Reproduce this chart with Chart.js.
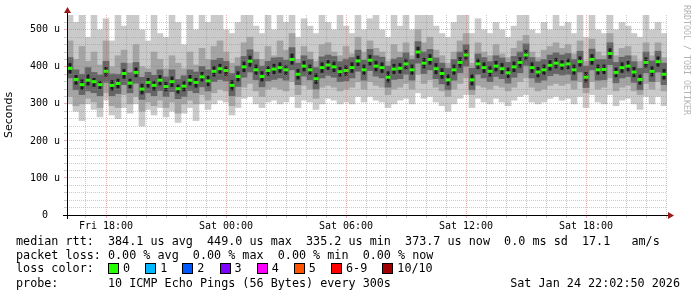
<!DOCTYPE html>
<html>
<head>
<meta charset="utf-8">
<script src="https://cdn.jsdelivr.net/npm/chart.js@4/dist/chart.umd.min.js"></script>
<style>
body { margin: 0; background: #fff; }
#wrap { position: relative; width: 697px; height: 297px; overflow: hidden; }
canvas { position: absolute; left: 0; top: 0; }
.txt { position: absolute; left: 16px; font: 11.75px 'DejaVu Sans Mono', monospace; white-space: pre; color: #000; line-height: 14px; }
.sq { position: absolute; width: 9px; height: 9px; border: 1px solid #000; }
</style>
</head>
<body>
<div id="wrap">
<canvas id="smoke" width="697" height="297"></canvas>
<div class="txt" style="top:234px">median rtt:  384.1 us avg  449.0 us max  335.2 us min  373.7 us now  0.0 ms sd  17.1   am/s</div>
<div class="txt" style="top:248px">packet loss: 0.00 % avg  0.00 % max  0.00 % min  0.00 % now</div>
<div class="txt" style="top:261px">loss color:</div>
<div class="txt" style="top:276px">probe:       10 ICMP Echo Pings (56 Bytes) every 300s</div>
<div class="txt" style="top:276px;left:auto;right:17px">Sat Jan 24 22:02:50 2026</div>
</div>
<script>
// time axis: hours since Fri 00:00, one column every 18 min
var startHour = 16.05;
var stepHours = 0.3;

// median rtt (us)
var median = [396,366,352,364,360,352,388,350,355,382,
  356,385,340,358,350,364,347,360,341,348,
  364,358,373,362,388,395,390,350,374,400,
  415,392,374,390,394,398,392,420,380,402,
  392,368,398,405,400,387,390,398,416,392,
  418,402,398,372,394,396,408,392,440,410,
  420,395,382,365,392,412,432,365,408,398,
  388,402,395,384,400,412,432,398,386,392,
  404,410,405,408,392,414,372,420,392,393,
  436,385,398,402,386,366,412,388,414,380];

// core smoke (pings next to the median)
var coreHi = [410,378,366,380,370,362,400,364,368,394,
  368,398,354,370,362,378,360,374,352,362,
  378,370,386,376,402,408,402,364,388,414,
  430,406,388,402,408,412,404,436,394,416,
  406,382,412,418,414,400,404,412,430,406,
  432,416,412,388,408,410,422,406,454,424,
  434,410,396,380,406,426,446,380,422,412,
  402,416,410,398,414,426,446,412,400,406,
  418,424,418,422,406,428,386,434,406,406,
  450,398,412,416,400,380,426,402,428,394];
var coreLo = [382,352,338,350,346,340,374,336,342,368,
  342,372,326,344,336,350,334,346,328,334,
  350,344,360,348,374,382,376,336,360,386,
  400,378,360,376,380,384,378,406,366,388,
  378,354,384,392,386,374,376,384,402,378,
  404,388,384,358,380,382,394,378,424,396,
  406,380,368,350,378,398,418,350,394,384,
  374,388,380,370,386,398,418,384,372,378,
  390,396,392,394,378,400,358,406,378,380,
  422,372,384,388,372,352,398,374,400,366];

// inner (dark grey) smoke
var innerHi = [425,392,380,398,385,378,415,381,380,410,
  384,412,372,385,377,392,373,392,366,376,
  392,386,401,392,418,423,415,382,402,428,
  446,420,402,415,424,425,418,452,410,430,
  420,398,427,432,428,414,421,425,445,418,
  447,430,426,402,421,425,438,420,468,440,
  447,424,410,396,420,440,460,396,435,425,
  414,430,424,412,428,440,462,425,414,420,
  432,438,432,436,420,442,402,448,420,420,
  465,412,426,430,414,396,440,416,442,410];
var innerLo = [370,338,325,335,330,322,358,322,328,352,
  330,356,312,330,322,336,320,333,314,320,
  336,330,346,335,360,366,362,322,347,372,
  386,365,346,362,366,370,364,392,352,375,
  365,340,370,377,372,360,362,370,388,364,
  390,375,370,345,366,368,380,364,410,382,
  392,368,354,338,364,384,402,338,380,370,
  360,374,368,356,372,384,404,370,358,364,
  376,382,378,380,364,386,344,392,364,365,
  406,357,370,374,358,338,384,360,386,352];

// middle smoke
var midHi = [470,420,455,415,440,405,470,400,430,445,
  410,460,400,395,440,420,395,430,410,395,
  440,405,450,420,455,470,440,410,425,465,
  480,440,420,455,430,470,445,490,420,455,
  440,415,460,465,440,430,455,435,480,440,
  470,450,440,415,460,440,465,430,500,465,
  480,445,430,410,440,470,490,410,465,440,
  430,460,435,425,450,470,485,440,425,445,
  455,465,450,460,435,470,415,475,440,430,
  490,430,450,455,430,415,465,430,465,425];
var midLo = [320,295,300,315,305,290,330,295,290,325,
  300,320,280,305,295,310,290,305,275,300,
  310,300,325,310,330,340,335,295,320,345,
  355,335,320,340,345,340,335,360,325,350,
  340,315,345,350,345,335,340,345,360,340,
  360,350,345,325,340,345,355,340,380,355,
  365,345,335,320,340,355,370,325,350,345,
  340,350,345,335,345,360,370,345,335,340,
  350,355,350,355,340,360,330,360,340,345,
  370,335,345,350,335,325,355,340,360,335];

// outer (light) smoke: min and max ping
var maxPing = [545,520,545,480,545,500,530,470,545,510,
  545,545,500,470,545,490,480,545,520,460,
  545,500,545,520,545,545,500,490,520,545,
  545,510,490,545,500,545,520,545,480,530,
  510,490,545,520,500,545,510,490,545,500,
  530,545,500,480,545,510,545,500,545,545,
  545,510,490,480,520,545,545,490,530,500,
  490,520,500,480,510,545,545,500,490,520,
  500,545,510,520,490,545,480,545,500,490,
  545,500,520,510,490,480,545,500,520,490];
var minPing = [300,280,255,300,285,265,310,270,260,290,
  275,300,240,285,270,290,265,280,250,275,
  290,255,300,285,300,310,305,270,290,315,
  320,300,290,305,310,300,305,320,290,310,
  305,285,300,315,310,300,305,300,320,305,
  320,310,305,290,300,310,315,300,330,315,
  320,305,295,280,300,315,325,290,315,305,
  300,315,305,295,310,320,325,305,300,305,
  315,320,310,315,300,320,290,325,305,300,
  325,295,310,315,300,285,320,300,320,295];

var lossLabels = ['0', '1', '2', '3', '4', '5', '6-9', '10/10'];
var lossColors = ['#26ff00', '#00b8ff', '#0059ff', '#7e00ff', '#ff00ff', '#ff5500', '#ff0000', '#a00000'];

var yTickStep = 20;
var yTickMax = 520;

// loss colour legend
var wrap = document.getElementById('wrap');
var lx = 108;
for (var k = 0; k < lossLabels.length; k++) {
  var sq = document.createElement('div');
  sq.className = 'sq';
  sq.style.left = lx + 'px';
  sq.style.top = '263px';
  sq.style.background = lossColors[k];
  wrap.appendChild(sq);
  var lb = document.createElement('div');
  lb.className = 'txt';
  lb.style.left = (lx + 15) + 'px';
  lb.style.top = '261px';
  lb.textContent = lossLabels[k];
  wrap.appendChild(lb);
  lx += 30.1 + lossLabels[k].length * 7.07;
}

function hoursAt(i) { return startHour + stepHours * (i + 0.5); }
function band(lo, hi) {
  return lo.map(function (v, i) { return { x: hoursAt(i), y: [v, hi[i]] }; });
}
var medPts = median.map(function (v, i) { return { x: hoursAt(i), y: v }; });

function barSet(lo, hi, color, width) {
  return {
    type: 'bar',
    data: band(lo, hi),
    backgroundColor: color,
    borderWidth: 0,
    grouped: false,
    barPercentage: width,
    categoryPercentage: 1
  };
}

var minorGrid = 'rgba(140,140,140,0.45)';
var majorGrid = 'rgba(225,80,80,0.45)';

var axisArrows = {
  id: 'axisArrows',
  afterDraw: function (chart) {
    var ctx = chart.ctx, a = chart.chartArea;
    ctx.save();
    ctx.strokeStyle = '#000';
    ctx.lineWidth = 1;
    ctx.beginPath();
    ctx.moveTo(a.left - 4, a.bottom + 0.5);
    ctx.lineTo(a.right + 2, a.bottom + 0.5);
    ctx.moveTo(a.left + 0.5, a.bottom + 4);
    ctx.lineTo(a.left + 0.5, a.top - 2);
    ctx.stroke();
    ctx.fillStyle = '#9a1a1a';
    ctx.beginPath();
    ctx.moveTo(a.left + 0.5, a.top - 8);
    ctx.lineTo(a.left - 3, a.top - 2);
    ctx.lineTo(a.left + 4, a.top - 2);
    ctx.fill();
    ctx.beginPath();
    ctx.moveTo(a.right + 7, a.bottom + 0.5);
    ctx.lineTo(a.right + 1, a.bottom - 3);
    ctx.lineTo(a.right + 1, a.bottom + 4);
    ctx.fill();
    // watermark
    ctx.translate(686, 5);
    ctx.rotate(Math.PI / 2);
    ctx.fillStyle = '#b4b4b4';
    ctx.font = "8.3px 'DejaVu Sans Mono'";
    ctx.textBaseline = 'middle';
    ctx.fillText('RRDTOOL / TOBI OETIKER', 0, 0);
    ctx.restore();
  }
};

var ctx = document.getElementById('smoke').getContext('2d');
var myChart = new Chart(ctx, {
  type: 'bar',
  data: {
    datasets: [
      {
        type: 'line',
        data: medPts,
        showLine: false,
        pointStyle: 'line',
        pointRadius: 2.5,
        pointBorderWidth: 3,
        pointBorderColor: '#26ff00',
        pointBackgroundColor: '#26ff00'
      },
      barSet(coreLo, coreHi, '#1c1c1c', 0.5),
      barSet(innerLo, innerHi, '#666666', 1),
      barSet(midLo, midHi, '#a4a4a4', 1),
      barSet(minPing, maxPing, '#cacaca', 1)
    ]
  },
  options: {
    responsive: false,
    animation: false,
    layout: { padding: { top: 15, right: 30, bottom: 65, left: 0 } },
    plugins: { legend: { display: false }, tooltip: { enabled: false } },
    scales: {
      x: {
        type: 'linear',
        offset: false,
        min: startHour,
        max: startHour + stepHours * median.length,
        afterBuildTicks: function (scale) {
          var t = [];
          for (var h = 17; h <= 46; h++) t.push({ value: h });
          scale.ticks = t;
        },
        afterFit: function (scale) { scale.height = 17; },
        grid: {
          offset: false,
          z: 1,
          tickLength: 3,
          color: function (c) { return c.tick && c.tick.value % 6 === 0 ? majorGrid : minorGrid; },
          tickColor: function (c) { return c.tick && c.tick.value % 6 === 0 ? majorGrid : minorGrid; }
        },
        border: { display: false, dash: [1, 1] },
        ticks: {
          autoSkip: false,
          maxRotation: 0,
          padding: 2,
          color: '#000',
          font: { family: 'DejaVu Sans Mono', size: 10 },
          callback: function (v) {
            if (v % 6 !== 0) return '';
            var day = v < 24 ? 'Fri' : 'Sat';
            var hh = v % 24;
            return day + ' ' + (hh < 10 ? '0' : '') + hh + ':00';
          }
        }
      },
      y: {
        min: 0,
        max: 540,
        afterBuildTicks: function (scale) {
          var t = [];
          for (var v = 0; v <= yTickMax; v += yTickStep) t.push({ value: v });
          scale.ticks = t;
        },
        afterFit: function (scale) { scale.width = 67; },
        grid: {
          z: 1,
          tickLength: 3,
          color: function (c) { return c.tick && c.tick.value % 100 === 0 ? majorGrid : minorGrid; },
          tickColor: function (c) { return c.tick && c.tick.value % 100 === 0 ? majorGrid : minorGrid; }
        },
        border: { display: false, dash: [1, 1] },
        title: {
          display: true,
          text: 'Seconds',
          color: '#000',
          padding: { top: 3, bottom: 0 },
          font: { family: 'DejaVu Sans', size: 11 }
        },
        ticks: {
          autoSkip: false,
          padding: 4,
          color: '#000',
          font: { family: 'DejaVu Sans Mono', size: 10 },
          callback: function (v) {
            if (v % 100 !== 0) return '';
            return v === 0 ? '0  ' : v + ' u';
          }
        }
      }
    }
  },
  plugins: [axisArrows]
});
</script>
</body>
</html>
